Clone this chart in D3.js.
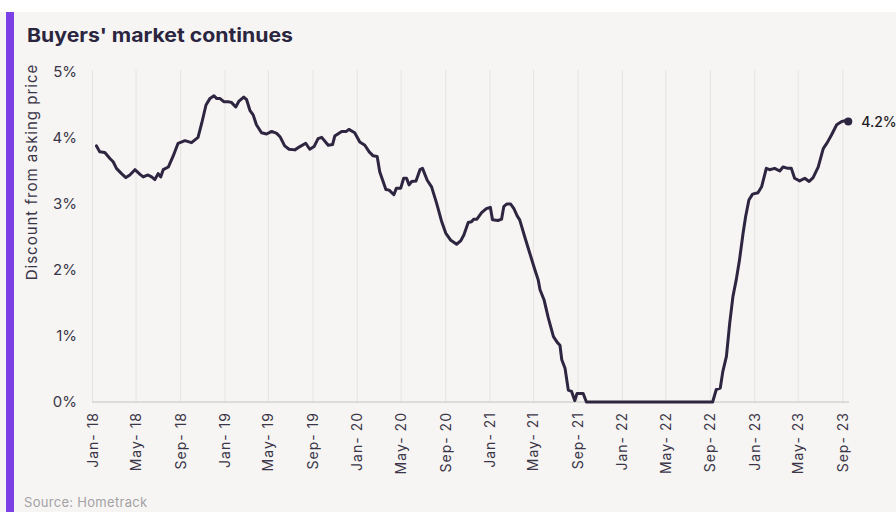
<!DOCTYPE html>
<html>
<head>
<meta charset="utf-8">
<script src="https://cdn.jsdelivr.net/npm/d3@7"></script>
<style>
  body { margin: 0; background: #fff; }
  svg { display: block; font-family: Inter, "Noto Sans", sans-serif; }
</style>
</head>
<body>
<svg id="chart" width="896" height="512"></svg>
<script>
// weekly-ish readings of the discount from asking price (%)
var dates = [
  "2018-01-12","2018-01-21","2018-02-04","2018-02-18","2018-02-27","2018-03-08","2018-03-22","2018-04-03",
  "2018-04-14","2018-04-28","2018-05-12","2018-05-21","2018-06-03","2018-06-13","2018-06-22","2018-07-01",
  "2018-07-08","2018-07-15","2018-07-29","2018-08-11","2018-08-25","2018-09-13","2018-10-01","2018-10-19",
  "2018-10-29","2018-11-10","2018-11-21","2018-12-02","2018-12-09","2018-12-18","2018-12-29","2019-01-10",
  "2019-01-19","2019-01-31","2019-02-09","2019-02-22","2019-03-02","2019-03-11","2019-03-20","2019-03-29",
  "2019-04-12","2019-04-26","2019-05-10","2019-05-24","2019-06-02","2019-06-15","2019-06-27","2019-07-13",
  "2019-07-27","2019-08-12","2019-08-23","2019-09-04","2019-09-15","2019-09-25","2019-10-13","2019-10-25",
  "2019-10-31","2019-11-19","2019-12-02","2019-12-09","2019-12-25","2020-01-08","2020-01-22","2020-02-03",
  "2020-02-14","2020-02-25","2020-03-03","2020-03-20","2020-03-29","2020-04-11","2020-04-18","2020-04-30",
  "2020-05-08","2020-05-16","2020-05-23","2020-05-30","2020-06-11","2020-06-22","2020-06-29","2020-07-12",
  "2020-07-24","2020-08-07","2020-08-21","2020-09-01","2020-09-15","2020-10-01","2020-10-12","2020-10-21",
  "2020-11-02","2020-11-11","2020-11-17","2020-11-26","2020-12-09","2020-12-22","2021-01-02","2021-01-08",
  "2021-01-23","2021-02-02","2021-02-08","2021-02-16","2021-02-27","2021-03-08","2021-03-17","2021-03-24",
  "2021-04-07","2021-04-21","2021-05-05","2021-05-14","2021-05-19","2021-05-30","2021-06-11","2021-06-25",
  "2021-07-06","2021-07-13","2021-07-18","2021-07-27","2021-08-05","2021-08-14","2021-08-23","2021-08-29",
  "2021-09-15","2021-09-24","2022-09-07","2022-09-17","2022-09-28","2022-10-05","2022-10-15","2022-10-24",
  "2022-11-02","2022-11-11","2022-11-20","2022-11-30","2022-12-07","2022-12-16","2022-12-26","2023-01-10",
  "2023-01-20","2023-02-02","2023-02-11","2023-02-25","2023-03-11","2023-03-20","2023-04-03","2023-04-12",
  "2023-04-21","2023-05-05","2023-05-19","2023-05-31","2023-06-11","2023-06-25","2023-07-09","2023-07-20",
  "2023-08-01","2023-08-15","2023-08-29","2023-09-07","2023-09-16"
];
var discount = [
  3.88,3.79,3.78,3.69,3.64,3.54,3.46,3.40,
  3.44,3.52,3.45,3.41,3.44,3.41,3.37,3.46,
  3.41,3.52,3.56,3.72,3.92,3.96,3.93,4.01,
  4.22,4.50,4.60,4.64,4.60,4.60,4.55,4.55,
  4.54,4.47,4.56,4.62,4.58,4.42,4.35,4.20,
  4.08,4.06,4.10,4.07,4.02,3.88,3.83,3.82,
  3.87,3.92,3.83,3.87,3.99,4.01,3.89,3.90,
  4.03,4.10,4.10,4.13,4.08,3.94,3.89,3.79,
  3.73,3.72,3.49,3.22,3.21,3.14,3.24,3.24,
  3.39,3.39,3.29,3.34,3.35,3.52,3.54,3.36,
  3.26,3.01,2.73,2.56,2.45,2.39,2.44,2.53,
  2.72,2.73,2.77,2.77,2.87,2.93,2.95,2.76,
  2.75,2.77,2.96,3.00,3.00,2.93,2.82,2.76,
  2.50,2.25,2.00,1.85,1.70,1.55,1.27,0.99,
  0.90,0.86,0.64,0.51,0.18,0.16,0.02,0.13,
  0.13,0.00,0.00,0.19,0.21,0.46,0.69,1.19,
  1.60,1.85,2.15,2.56,2.81,3.06,3.15,3.17,
  3.26,3.54,3.52,3.54,3.50,3.56,3.54,3.54,
  3.39,3.35,3.39,3.34,3.40,3.56,3.84,3.93,
  4.05,4.20,4.25,4.26,4.25
];
var yTicks = [0, 1, 2, 3, 4, 5];
var endLabel = "4.2%";

var parse = d3.timeParse("%Y-%m-%d");
var data = dates.map(function(d, i) { return { date: parse(d), value: discount[i] }; });

var svg = d3.select("#chart");

// card background and accent bar
svg.append("rect").attr("x", 0).attr("y", 12).attr("width", 896).attr("height", 500).attr("fill", "#f6f5f3");
svg.append("rect").attr("x", 6).attr("y", 12).attr("width", 8).attr("height", 500).attr("fill", "#7b41e6");

svg.append("text")
  .attr("x", 27).attr("y", 42)
  .attr("font-size", 19).attr("font-weight", 700)
  .attr("fill", "#2b2540")
  .attr("textLength", 266).attr("lengthAdjust", "spacingAndGlyphs")
  .text("Buyers' market continues");

var x = d3.scaleTime()
  .domain([parse("2018-01-01"), parse("2023-09-18")])
  .range([92.5, 849]);
var y = d3.scaleLinear().domain([0, 5]).range([402, 72]);

// vertical gridlines at the month ticks
var ticks = x.ticks(d3.timeMonth.every(4));
svg.append("g").selectAll("line").data(ticks)
  .enter().append("line")
  .attr("x1", d => x(d)).attr("x2", d => x(d))
  .attr("y1", 70).attr("y2", 402)
  .attr("stroke", "#e6e4e2").attr("stroke-width", 1);

svg.append("line")
  .attr("x1", 92).attr("x2", 849).attr("y1", y(0)).attr("y2", y(0))
  .attr("stroke", "#c4c2c0").attr("stroke-width", 1);

// y labels
svg.append("g").selectAll("text").data(yTicks)
  .enter().append("text")
  .attr("x", 77).attr("y", d => y(d) + 5)
  .attr("text-anchor", "end")
  .attr("font-size", 15).attr("fill", "#3b3548")
  .text(d => d + "%");

svg.append("text")
  .attr("transform", "translate(37,172) rotate(-90)")
  .attr("text-anchor", "middle")
  .attr("font-size", 15).attr("letter-spacing", 1).attr("fill", "#3b3548")
  .text("Discount from asking price");

// x labels
var fmt = d3.timeFormat("%b- %y");
svg.append("g").selectAll("text").data(ticks)
  .enter().append("text")
  .attr("transform", d => "translate(" + (x(d) + 5) + ",412) rotate(-90)")
  .attr("text-anchor", "end")
  .attr("font-size", 14).attr("letter-spacing", 1).attr("fill", "#3b3548")
  .text(d => fmt(d));

var line = d3.line().x(d => x(d.date)).y(d => y(d.value));
svg.append("path").datum(data)
  .attr("d", line)
  .attr("fill", "none")
  .attr("stroke", "#2e2541").attr("stroke-width", 3)
  .attr("stroke-linejoin", "round").attr("stroke-linecap", "round");

var last = data[data.length - 1];
svg.append("circle")
  .attr("cx", x(last.date)).attr("cy", y(last.value)).attr("r", 4)
  .attr("fill", "#2e2541");
svg.append("text")
  .attr("x", x(last.date) + 13).attr("y", y(last.value) + 5)
  .attr("font-size", 14).attr("font-weight", 500).attr("fill", "#1c1a22")
  .text(endLabel);

svg.append("text")
  .attr("x", 24).attr("y", 507)
  .attr("font-size", 13).attr("letter-spacing", 0.3).attr("fill", "#a3a1a6")
  .text("Source: Hometrack");
</script>
</body>
</html>
